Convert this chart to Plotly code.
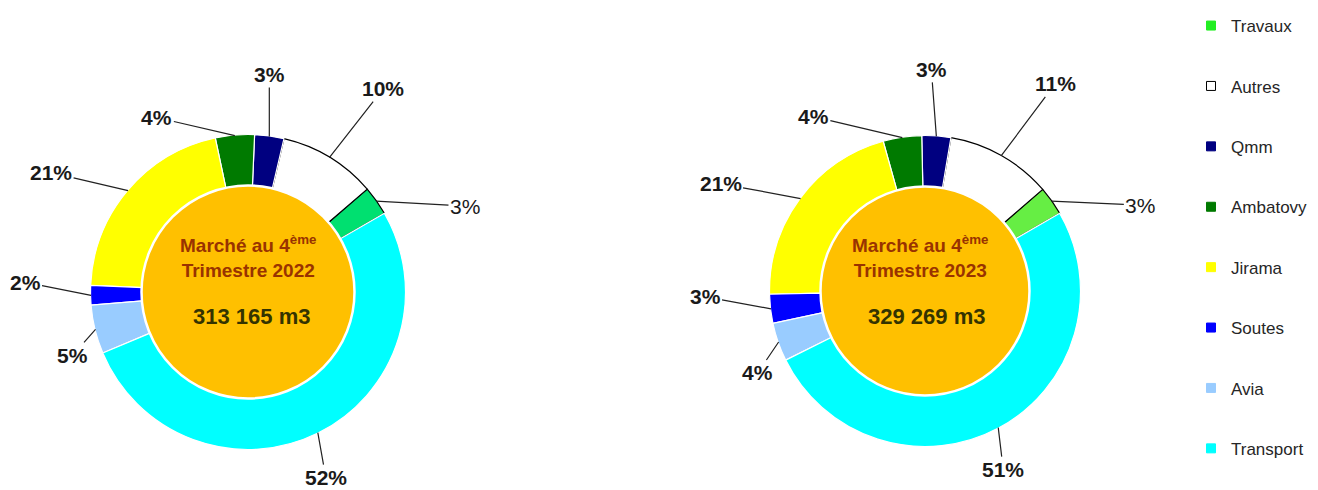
import math
import plotly.graph_objects as go

# ---------------- data ----------------
categories = ["Travaux", "Autres", "Qmm", "Ambatovy", "Jirama", "Soutes", "Avia", "Transport"]
share_2022 = [3, 10, 3, 4, 21, 2, 5, 52]
share_2023 = [3, 11, 3, 4, 21, 3, 4, 51]
total_2022 = "313 165 m3"
total_2023 = "329 269 m3"
title_2022 = "Marché au 4<sup>ème</sup><br>Trimestre 2022"
title_2023 = "Marché au 4<sup>ème</sup><br>Trimestre 2023"

# ---------------- layout / styles ----------------
OFF_X, OFF_Y = 8, 9          # page offset of the figure inside the browser window
FW, FH = 1310, 481           # figure size so that it fits the 1318x490 window
R_PAD = 0.5

def fx(x):
    return (x - OFF_X) / FW

def fy(y):
    return 1 - (y - OFF_Y) / FH

base_colors = {
    "Travaux": "#22EE22", "Autres": "#FFFFFF", "Qmm": "#000080", "Ambatovy": "#007A00",
    "Jirama": "#FFFF00", "Soutes": "#0000FF", "Avia": "#99CCFF", "Transport": "#00FFFF",
}
travaux_color = {"2022": "#00E070", "2023": "#66EE44"}
GOLD = "#FFC000"
FONT = "Liberation Sans, Arial, sans-serif"
START = 60   # clockwise angle (deg from 12 o'clock) where the first slice begins

charts = [
    dict(key="2022", vals=share_2022, total=total_2022, title=title_2022,
         cx=248, cy=293, r=157, rin=106, tx=248, ty=257, nx=251, ny=317,
         offsets={"Travaux": (89, 5), "Autres": (54, -69), "Qmm": (0, -62), "Ambatovy": (-78, -18),
                  "Jirama": (-77, -18), "Soutes": (-66, -13), "Avia": (-23, 26), "Transport": (8, 45)}),
    dict(key="2023", vals=share_2023, total=total_2023, title=title_2023,
         cx=925, cy=292, r=155, rin=104, tx=920, ty=257, nx=926, ny=317,
         offsets={"Travaux": (89, 4), "Autres": (54, -72), "Qmm": (-5, -67), "Ambatovy": (-89, -21),
                  "Jirama": (-80, -15), "Soutes": (-66, -12), "Avia": (-21, 31), "Transport": (5, 42)}),
]

fig = go.Figure()
annotations = []

for c in charts:
    cx, cy, r, rin = c["cx"], c["cy"], c["r"], c["rin"]
    tot = sum(c["vals"])
    rd = r + R_PAD
    dom = dict(x=[fx(cx - rd), fx(cx + rd)], y=[fy(cy + rd), fy(cy - rd)])
    colors = [travaux_color[c["key"]] if k == "Travaux" else base_colors[k] for k in categories]
    lcolors = ["#000000" if k in ("Autres", "Travaux") else "#FFFFFF" for k in categories]
    # plotly (counterclockwise) ends the first slice at `rotation`
    rotation = START - c["vals"][0] / tot * 360
    fig.add_trace(go.Pie(
        labels=categories, values=c["vals"], domain=dom, hole=0.67, sort=False,
        direction="counterclockwise", rotation=rotation, textinfo="none", hoverinfo="label+percent",
        marker=dict(colors=colors, line=dict(color=lcolors, width=1.2)), showlegend=False,
    ))
    rdi = rin + R_PAD
    dom_in = dict(x=[fx(cx - rdi), fx(cx + rdi)], y=[fy(cy + rdi), fy(cy - rdi)])
    fig.add_trace(go.Pie(
        labels=["Total"], values=[1], domain=dom_in, sort=False, textinfo="none", hoverinfo="skip",
        marker=dict(colors=[GOLD], line=dict(color="#FFFFFF", width=2.5)), showlegend=False,
    ))
    # percentage labels with leader lines, anchored at each slice's mid-angle
    acc = 0
    for k, v in zip(categories, c["vals"]):
        a0 = START - acc / tot * 360
        a1 = a0 - v / tot * 360
        acc += v
        mid = math.radians((a0 + a1) / 2)
        px = cx + r * math.sin(mid)
        py = cy - r * math.cos(mid)
        ax, ay = c["offsets"][k]
        txt = f"{round(v / tot * 100)}%"
        annotations.append(dict(
            x=fx(px), y=fy(py), xref="paper", yref="paper", ax=ax, ay=ay,
            text=txt if k == "Travaux" else f"<b>{txt}</b>",
            showarrow=True, arrowhead=0, arrowwidth=1.2, arrowcolor="#222222", standoff=0,
            font=dict(family=FONT, size=21, color="#1A1A1A"),
        ))
    annotations.append(dict(x=fx(c["tx"]), y=fy(c["ty"]), xref="paper", yref="paper",
                            xanchor="center", yanchor="middle",
                            text=f"<b>{c['title']}</b>", showarrow=False,
                            font=dict(family=FONT, size=19, color="#993300")))
    annotations.append(dict(x=fx(c["nx"]), y=fy(c["ny"]), xref="paper", yref="paper",
                            xanchor="center", yanchor="middle",
                            text=f"<b>{c['total']}</b>", showarrow=False,
                            font=dict(family=FONT, size=22, color="#333300")))

# legend entries
for i, k in enumerate(categories):
    fig.add_trace(go.Scatter(
        x=[None], y=[None], mode="markers", name=k, legendgroup=f"g{i}",
        marker=dict(symbol="square", size=9, color=base_colors[k],
                    line=dict(color="#000000" if k == "Autres" else base_colors[k], width=1)),
    ))

fig.update_layout(
    width=FW, height=FH, margin=dict(l=0, r=0, t=0, b=0),
    paper_bgcolor="#FFFFFF", plot_bgcolor="#FFFFFF",
    xaxis=dict(visible=False), yaxis=dict(visible=False),
    annotations=annotations,
    legend=dict(x=fx(1191), xanchor="left", y=1, yanchor="top", maxheight=800,
                tracegroupgap=35.3, itemwidth=30,
                font=dict(family=FONT, size=17, color="#262626"), bgcolor="rgba(0,0,0,0)"),
    showlegend=True,
)

fig.write_html("out.html")
